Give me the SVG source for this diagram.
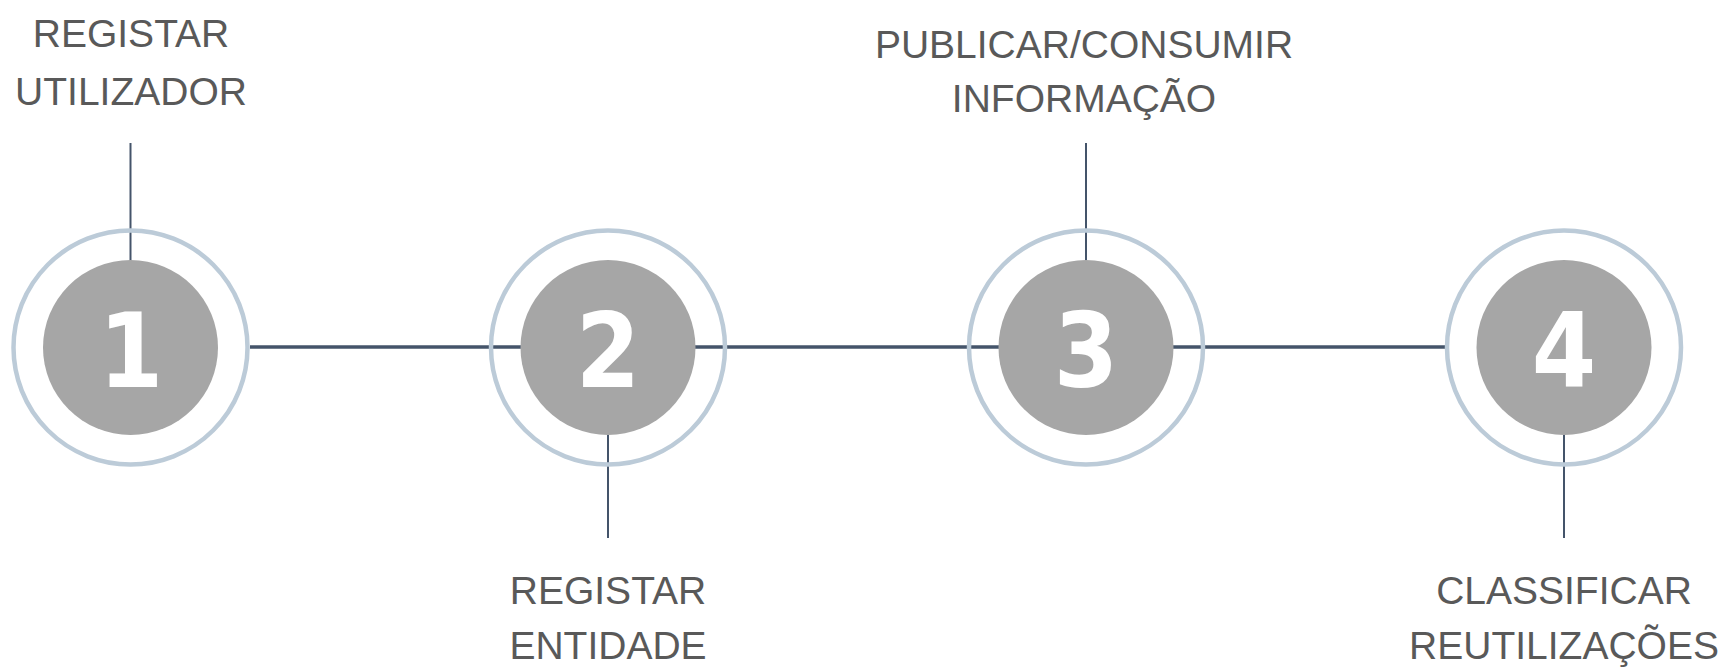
<svg xmlns="http://www.w3.org/2000/svg" width="1719" height="667" viewBox="0 0 1719 667">
<style>
.ring{fill:none;stroke:#bccbd8;stroke-width:4.5}
.core{fill:#a6a6a6}
.num{font-family:"DejaVu Sans Condensed","DejaVu Sans",sans-serif;font-weight:bold;font-size:103px;fill:#ffffff;text-anchor:middle}
.lbl{font-family:"Liberation Sans",Arial,sans-serif;font-size:39px;fill:#595959;text-anchor:middle}
.tick{stroke:#44546a;stroke-width:2}
.main{stroke:#44546a;stroke-width:3.5}
</style>
<g id="connectors">
<line class="main" x1="250" y1="347" x2="1445" y2="347"/>
<line class="tick" x1="130.5" y1="143" x2="130.5" y2="262"/>
<line class="tick" x1="608" y1="433" x2="608" y2="538"/>
<line class="tick" x1="1086" y1="143" x2="1086" y2="262"/>
<line class="tick" x1="1564" y1="433" x2="1564" y2="538"/>
</g>
<g id="node1">
<circle class="ring" cx="130.5" cy="347.5" r="117"/>
<circle class="core" cx="130.5" cy="347.5" r="87.5"/>
<text class="num" x="131" y="386.5">1</text>
<text class="lbl" x="131" y="46.5">REGISTAR</text>
<text class="lbl" x="131" y="104.5">UTILIZADOR</text>
</g>
<g id="node2">
<circle class="ring" cx="608" cy="347.5" r="117"/>
<circle class="core" cx="608" cy="347.5" r="87.5"/>
<text class="num" x="608" y="386.5">2</text>
<text class="lbl" x="608" y="603.5">REGISTAR</text>
<text class="lbl" x="608" y="659">ENTIDADE</text>
</g>
<g id="node3">
<circle class="ring" cx="1086" cy="347.5" r="117"/>
<circle class="core" cx="1086" cy="347.5" r="87.5"/>
<text class="num" x="1086" y="386.5">3</text>
<text class="lbl" x="1084" y="57.5">PUBLICAR/CONSUMIR</text>
<text class="lbl" x="1084" y="111.5">INFORMAÇÃO</text>
</g>
<g id="node4">
<circle class="ring" cx="1564" cy="347.5" r="117"/>
<circle class="core" cx="1564" cy="347.5" r="87.5"/>
<text class="num" x="1564" y="386.5">4</text>
<text class="lbl" x="1564" y="603.5">CLASSIFICAR</text>
<text class="lbl" x="1564" y="659">REUTILIZAÇÕES</text>
</g>
</svg>
